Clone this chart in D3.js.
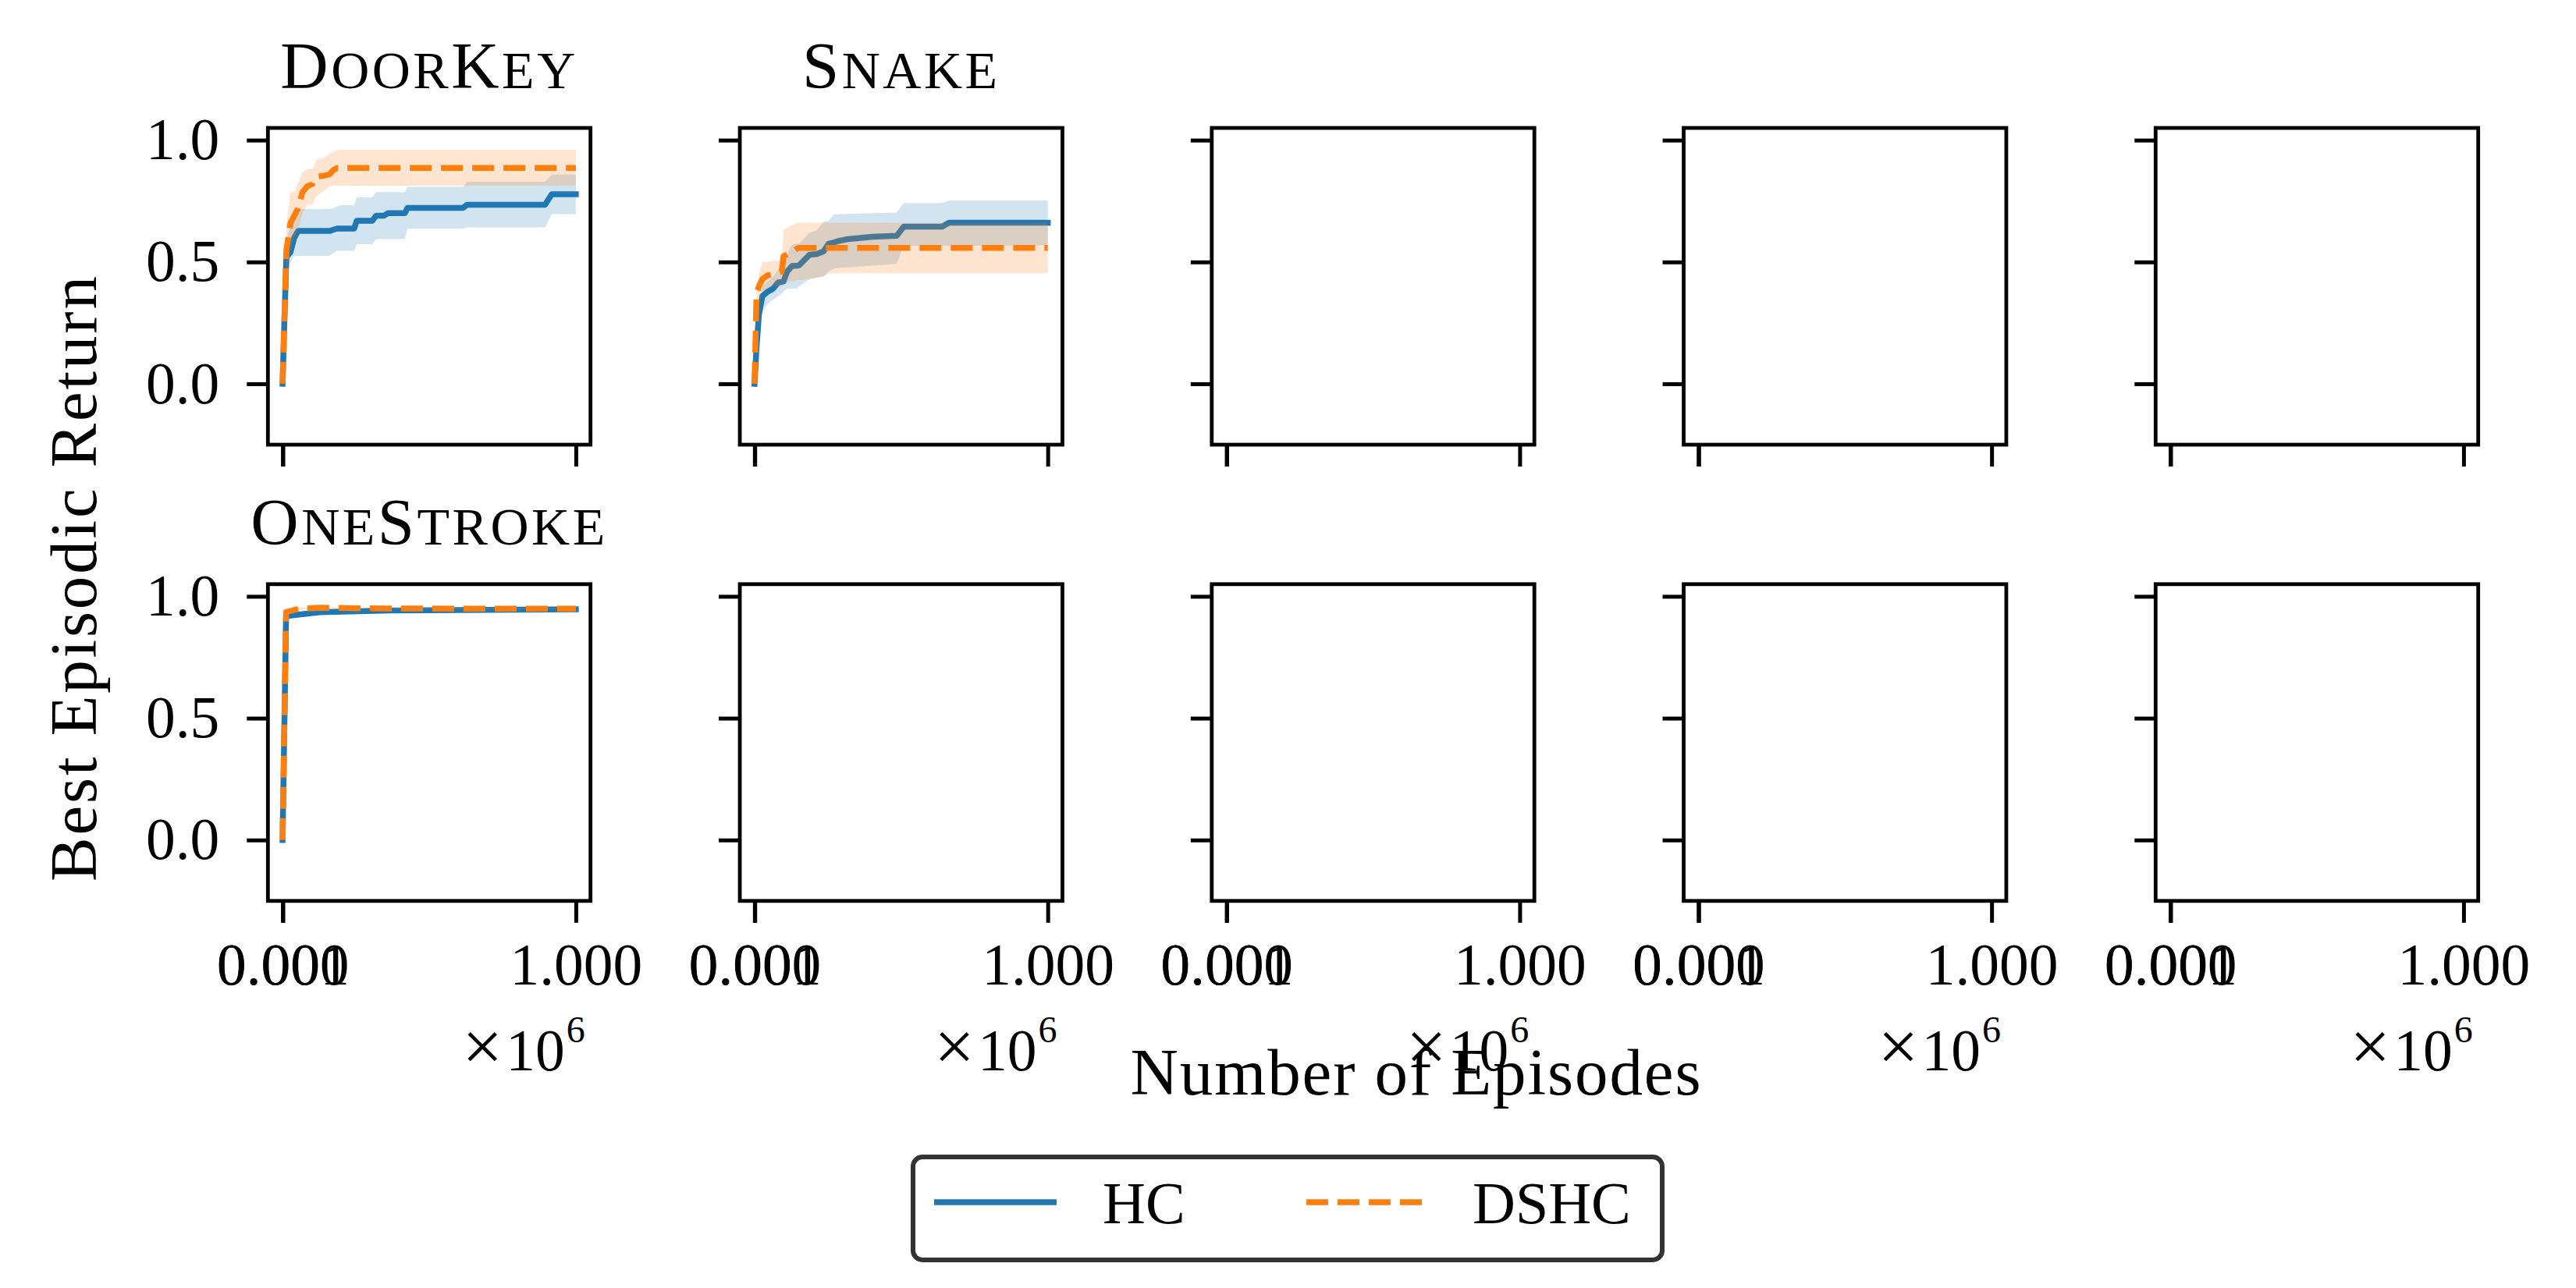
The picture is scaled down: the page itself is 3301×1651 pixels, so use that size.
<!DOCTYPE html>
<html><head><meta charset="utf-8">
<script src="https://cdn.jsdelivr.net/npm/d3@7/dist/d3.min.js"></script>
<style>
body{margin:0;background:#fff;}
svg{display:block;}
text{font-family:"Liberation Serif","Times New Roman",serif;fill:#000;}
</style>
</head><body>
<svg id="chart" width="3301" height="1651"></svg>
<script>
// ---------------- data ----------------
const seriesNames = ["HC", "DSHC"];
const seriesColors = ["#1f77b4", "#ff7f0e"];
const panelTitles = ["DoorKey", "Snake", "OneStroke"];
const yTicks = [0, 0.5, 1.0];
const yTickLabels = ["0.0", "0.5", "1.0"];
const xTicks = [0, 1000, 1000000];
const xTickLabels = ["0.000", "0.001", "1.000"];
const offsetTimes = "×";
const offsetLabel = "10";
const offsetExponent = "6";
const xAxisTitle = "Number of Episodes";
const yAxisTitle = "Best Episodic Return";

// DoorKey
const doorKeyEpisodes = [0, 4000, 13000, 27000, 40000, 53000, 68000, 84000, 102000, 115000, 137000, 160000, 173000, 186000, 200000, 244000, 253000, 306000, 319000, 346000, 359000, 417000, 426000, 616000, 629000, 895000, 918000, 1000000];
const doorKeyHC     = [0, 0.17, 0.52, 0.54, 0.60, 0.627, 0.627, 0.627, 0.627, 0.627, 0.627, 0.627, 0.632, 0.637, 0.637, 0.637, 0.669, 0.669, 0.690, 0.690, 0.700, 0.700, 0.722, 0.722, 0.735, 0.735, 0.778, 0.778];
const doorKeyHCLow  = [0, 0.15, 0.466, 0.50, 0.525, 0.525, 0.525, 0.525, 0.525, 0.525, 0.525, 0.525, 0.536, 0.546, 0.546, 0.546, 0.573, 0.573, 0.594, 0.594, 0.594, 0.594, 0.637, 0.637, 0.642, 0.642, 0.696, 0.696];
const doorKeyHCHigh = [0, 0.19, 0.58, 0.66, 0.712, 0.717, 0.717, 0.717, 0.717, 0.717, 0.717, 0.717, 0.72, 0.728, 0.733, 0.733, 0.765, 0.765, 0.787, 0.787, 0.787, 0.787, 0.808, 0.808, 0.829, 0.829, 0.859, 0.859];
const doorKeyDSHC     = [0, 0.17, 0.55, 0.66, 0.69, 0.72, 0.787, 0.81, 0.82, 0.85, 0.853, 0.86, 0.877, 0.886, 0.886, 0.886, 0.886, 0.886, 0.886, 0.886, 0.886, 0.886, 0.886, 0.886, 0.886, 0.886, 0.886, 0.886];
const doorKeyDSHCLow  = [0, 0.15, 0.45, 0.55, 0.60, 0.63, 0.70, 0.735, 0.735, 0.77, 0.79, 0.808, 0.813, 0.813, 0.813, 0.813, 0.813, 0.813, 0.813, 0.813, 0.813, 0.813, 0.813, 0.813, 0.813, 0.813, 0.813, 0.813];
const doorKeyDSHCHigh = [0, 0.20, 0.65, 0.787, 0.787, 0.824, 0.87, 0.882, 0.882, 0.92, 0.925, 0.945, 0.95, 0.96, 0.96, 0.96, 0.96, 0.96, 0.96, 0.96, 0.96, 0.96, 0.96, 0.96, 0.96, 0.96, 0.96, 0.96];

// Snake
const snakeEpisodes = [0, 7000, 15000, 27000, 45000, 63000, 81000, 93000, 99000, 111000, 122000, 128000, 146000, 152000, 188000, 212000, 235000, 253000, 271000, 283000, 319000, 402000, 485000, 509000, 640000, 663000, 1000000];
const snakeHC     = [0, 0.15, 0.283, 0.36, 0.378, 0.39, 0.416, 0.418, 0.42, 0.46, 0.475, 0.483, 0.485, 0.486, 0.53, 0.532, 0.543, 0.575, 0.58, 0.585, 0.594, 0.603, 0.607, 0.645, 0.645, 0.661, 0.661];
const snakeHCLow  = [0, 0.12, 0.25, 0.30, 0.327, 0.345, 0.36, 0.37, 0.38, 0.39, 0.39, 0.39, 0.39, 0.40, 0.43, 0.435, 0.44, 0.46, 0.473, 0.475, 0.478, 0.485, 0.492, 0.566, 0.566, 0.566, 0.569];
const snakeHCHigh = [0, 0.18, 0.32, 0.40, 0.42, 0.44, 0.47, 0.48, 0.49, 0.53, 0.56, 0.57, 0.575, 0.575, 0.62, 0.63, 0.664, 0.67, 0.695, 0.695, 0.697, 0.70, 0.703, 0.742, 0.742, 0.752, 0.752];
const snakeDSHC     = [0, 0.37, 0.40, 0.43, 0.445, 0.45, 0.455, 0.46, 0.524, 0.53, 0.537, 0.54, 0.556, 0.558, 0.558, 0.558, 0.558, 0.558, 0.558, 0.558, 0.558, 0.558, 0.558, 0.558, 0.558, 0.558, 0.558];
const snakeDSHCLow  = [0, 0.28, 0.33, 0.38, 0.39, 0.40, 0.40, 0.40, 0.41, 0.42, 0.42, 0.42, 0.425, 0.425, 0.43, 0.435, 0.44, 0.454, 0.454, 0.454, 0.454, 0.454, 0.454, 0.454, 0.454, 0.454, 0.454];
const snakeDSHCHigh = [0, 0.38, 0.45, 0.50, 0.50, 0.505, 0.505, 0.505, 0.632, 0.64, 0.65, 0.65, 0.661, 0.661, 0.661, 0.661, 0.661, 0.661, 0.661, 0.661, 0.661, 0.661, 0.661, 0.661, 0.661, 0.661, 0.661];

// OneStroke
const oneStrokeEpisodes = [0, 12000, 56000, 127000, 367000, 1000000];
const oneStrokeHC       = [0, 0.919, 0.925, 0.935, 0.942, 0.947];
const oneStrokeHCLow    = [0, 0.91, 0.918, 0.93, 0.938, 0.944];
const oneStrokeHCHigh   = [0, 0.93, 0.933, 0.94, 0.946, 0.95];
const oneStrokeDSHC     = [0, 0.935, 0.949, 0.953, 0.95, 0.949];
const oneStrokeDSHCLow  = [0, 0.928, 0.944, 0.949, 0.947, 0.946];
const oneStrokeDSHCHigh = [0, 0.942, 0.953, 0.956, 0.953, 0.952];

// ---------------- build ----------------
function zipSeries(xs, m, lo, hi){ return xs.map((v,i)=>({x:v, m:m[i], lo:lo[i], hi:hi[i]})); }
const panels = [
  {row:0, col:0, title:panelTitles[0], series:[zipSeries(doorKeyEpisodes, doorKeyHC, doorKeyHCLow, doorKeyHCHigh), zipSeries(doorKeyEpisodes, doorKeyDSHC, doorKeyDSHCLow, doorKeyDSHCHigh)]},
  {row:0, col:1, title:panelTitles[1], series:[zipSeries(snakeEpisodes, snakeHC, snakeHCLow, snakeHCHigh), zipSeries(snakeEpisodes, snakeDSHC, snakeDSHCLow, snakeDSHCHigh)]},
  {row:1, col:0, title:panelTitles[2], series:[zipSeries(oneStrokeEpisodes, oneStrokeHC, oneStrokeHCLow, oneStrokeHCHigh), zipSeries(oneStrokeEpisodes, oneStrokeDSHC, oneStrokeDSHCLow, oneStrokeDSHCHigh)]},
];
for (let r=0;r<2;r++) for (let c=0;c<5;c++) if(!panels.find(p=>p.row===r&&p.col===c)) panels.push({row:r,col:c,title:null,series:[]});

// layout
const colLeft0 = 343.3, colStep = 604.75, boxW = 413.4, boxH = 406;
const rowTops = [164, 748.8];
const tickFont = 75.5, labelFont = 85, lw = 7.5;

const svg = d3.select("#chart");
svg.append("rect").attr("width",3301).attr("height",1651).attr("fill","#fff");

const x = d3.scaleLinear().domain([-50000, 1050000]).range([0, boxW]);
const y = d3.scaleLinear().domain([-0.25, 1.05]).range([boxH, 0]);

svg.append("defs").append("clipPath").attr("id","clipBox")
  .append("rect").attr("x",0).attr("y",0).attr("width",boxW).attr("height",boxH);

const line = d3.line().x(d=>x(d.x)).y(d=>y(d.m));
const area = d3.area().x(d=>x(d.x)).y0(d=>y(d.lo)).y1(d=>y(d.hi));

panels.forEach(p=>{
  const g = svg.append("g").attr("transform",`translate(${colLeft0 + p.col*colStep},${rowTops[p.row]})`);
  const plot = g.append("g").attr("clip-path","url(#clipBox)");
  p.series.forEach((s,i)=>{
    plot.append("path").datum(s).attr("d",area)
      .attr("fill",seriesColors[i]).attr("fill-opacity",0.2).attr("stroke","none");
    plot.append("path").datum(s).attr("d",line)
      .attr("fill","none").attr("stroke",seriesColors[i]).attr("stroke-width",lw)
      .attr("stroke-linejoin","round")
      .attr("stroke-linecap", i===0 ? "square" : "butt")
      .attr("stroke-dasharray", i===0 ? null : "28,12");
  });
  // axes
  const yAx = d3.axisLeft(y).tickValues(yTicks).tickSize(27).tickPadding(35)
    .tickFormat((d,i)=> p.col===0 ? yTickLabels[i] : "");
  const ya = g.append("g").call(yAx);
  const xAx = d3.axisBottom(x).tickValues(xTicks).tickSize(28).tickPadding(26)
    .tickFormat((d,i)=> p.row===1 ? xTickLabels[i] : "");
  const xa = g.append("g").attr("transform",`translate(0,${boxH})`).call(xAx);
  [ya,xa].forEach(a=>{
    a.select(".domain").remove();
    a.selectAll(".tick line").attr("stroke","#000").attr("stroke-width",5);
    a.selectAll(".tick text").attr("font-size",tickFont).attr("font-family",'"Liberation Serif",serif').attr("fill","#000");
  });
  // spines
  g.append("rect").attr("x",0).attr("y",0).attr("width",boxW).attr("height",boxH)
    .attr("fill","none").attr("stroke","#000").attr("stroke-width",4.8);
  // title (small caps)
  if (p.title){
    const t = g.append("text").attr("x",boxW/2).attr("y",-51).attr("text-anchor","middle")
      .attr("font-size",labelFont).attr("letter-spacing","3.5px");
    const runs = p.title.match(/[A-Z]+|[a-z]+/g);
    runs.forEach(run=>{
      const small = /[a-z]/.test(run);
      t.append("tspan").text(run)
        .attr("font-size", small ? 68 : labelFont)
        .style("text-transform", small ? "uppercase" : null);
    });
  }
  // offset text on bottom row
  if (p.row===1){
    const ot = g.append("text").attr("x",boxW-7).attr("y",boxH + 217).attr("text-anchor","end")
      .attr("font-size",tickFont);
    ot.append("tspan").text(offsetTimes).attr("font-size",92).attr("dx",0);
    ot.append("tspan").text(offsetLabel).attr("dx",4);
    ot.append("tspan").text(offsetExponent).attr("font-size",48).attr("dy",-36).attr("dx",2);
  }
});

// axis titles
svg.append("text").attr("x",1814).attr("y",1403).attr("text-anchor","middle")
  .attr("font-size",labelFont).attr("textLength",731).attr("lengthAdjust","spacing").text(xAxisTitle);
svg.append("text").attr("transform","translate(123,742) rotate(-90)").attr("text-anchor","middle")
  .attr("font-size",labelFont).attr("textLength",776).attr("lengthAdjust","spacing").text(yAxisTitle);

// legend
const lg = svg.append("g");
lg.append("rect").attr("x",1170).attr("y",1483).attr("width",960).attr("height",132).attr("rx",12)
  .attr("fill","#fff").attr("stroke","#333").attr("stroke-width",6);
const legendItems = [{x1:1197, x2:1354, tx:1413}, {x1:1674, x2:1824, tx:1887}];
seriesNames.forEach((name,i)=>{
  const it = legendItems[i];
  lg.append("line").attr("x1",it.x1).attr("x2",it.x2).attr("y1",1541).attr("y2",1541)
    .attr("stroke",seriesColors[i]).attr("stroke-width",lw)
    .attr("stroke-dasharray", i===0 ? null : "28,12");
  lg.append("text").attr("x",it.tx).attr("y",1568).attr("font-size",76).text(name);
});
</script>
</body></html>
